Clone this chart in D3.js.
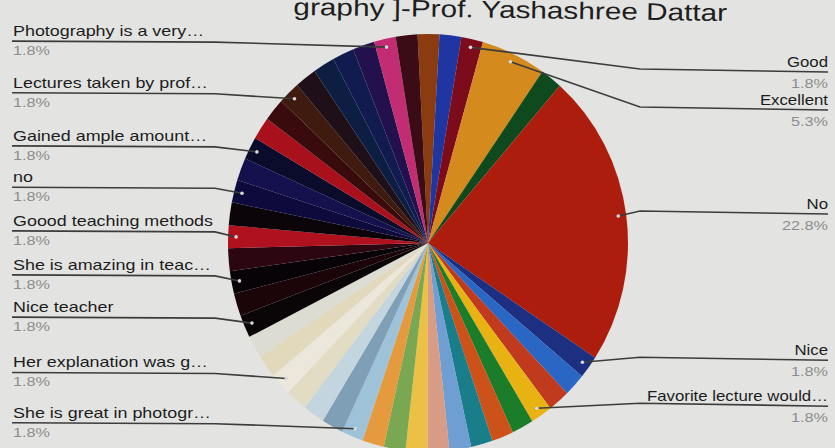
<!DOCTYPE html>
<html><head><meta charset="utf-8">
<script src="https://cdn.jsdelivr.net/npm/d3@7"></script>
<style>html,body{margin:0;padding:0;background:#e3e4e2;} svg{display:block;font-family:"Liberation Sans",Arial,sans-serif;}</style>
</head><body>
<svg id="chart" width="835" height="448"></svg>
<script>
const title = "[Photography ]-Prof. Yashashree Dattar";
// slices in clockwise order; empty name = response not labelled in the chart
const categories = [
  "", "", "Good", "Excellent", "", "No",
  "Nice", "", "", "Favorite lecture would\u2026", "", "", "", "", "",
  "", "", "", "She is great in photogr\u2026", "", "", "", "Her explanation was g\u2026", "", "",
  "Nice teacher", "", "She is amazing in teac\u2026", "", "Goood teaching methods", "", "no", "",
  "Gained ample amount\u2026", "", "", "Lectures taken by prof\u2026", "", "", "", "", "Photography is a very\u2026", ""
];
const values = [
  1, 1, 1, 3, 1, 13,
  1, 1, 1, 1, 1, 1, 1, 1, 1,
  1, 1, 1, 1, 1, 1, 1, 1, 1, 1,
  1, 1, 1, 1, 1, 1, 1, 1,
  1, 1, 1, 1, 1, 1, 1, 1, 1, 1
];
const colors = [
  "#8a3c10", "#1f36a2", "#7c0c1c", "#d58a1e", "#0e4a1e", "#ad1d0d",
  "#1c2f80", "#2a66c4", "#c03a1e", "#e8b212", "#1b7c2a", "#cd521a", "#1a7d8a", "#6e9ed2", "#d89c86",
  "#ecc044", "#7aa852", "#e69a3e", "#9ec2d8", "#7f9fb6", "#c3d6df", "#e3dcc4", "#ebe7da", "#e2d9bd", "#dcdcd2",
  "#0a0507", "#1c0509", "#070307", "#2c0711", "#b0111e", "#0b0509", "#0e0b3c", "#15114e",
  "#0b0b2c", "#a8111b", "#3a0b0c", "#3e1b0e", "#1e0f18", "#0e1d42", "#111b50", "#22114c", "#c22c72", "#3b0b16"
];

const cx = 428, cy = 243, R = 200, ky = 1.045;
const rot = -3 * Math.PI / 180;
const svg = d3.select("#chart");
const total = d3.sum(values);
const fmt = d3.format(".1%");
const color = d3.scaleOrdinal().domain(d3.range(values.length)).range(colors);

// title (the photo crops its left part)
svg.append("defs").append("clipPath").attr("id", "tclip")
  .append("rect").attr("x", 293).attr("y", -20).attr("width", 600).attr("height", 60);
svg.append("g").attr("clip-path", "url(#tclip)")
  .append("g").attr("transform", "translate(727,21) rotate(0.8) scale(1.24,1)")
  .append("text").attr("text-anchor", "end").attr("font-size", 24).attr("fill", "#1e1e1e")
  .text(title);

const pie = d3.pie().sort(null).value(d => d).startAngle(rot).endAngle(rot + 2 * Math.PI);
const arcs = pie(values);
const arc = d3.arc().innerRadius(0).outerRadius(R);

svg.append("g").attr("transform", `translate(${cx},${cy}) scale(1,${ky})`)
  .selectAll("path").data(arcs).join("path")
  .attr("d", arc).attr("fill", (d, i) => color(i));

const pts = arcs.map((d, i) => {
  const a = (d.startAngle + d.endAngle) / 2;
  return { i, a, x: cx + 0.96 * R * Math.sin(a), y: cy - 0.96 * R * ky * Math.cos(a), left: a > Math.PI };
}).filter(o => categories[o.i]);

const left = pts.filter(p => p.left).sort((a, b) => a.y - b.y);
const right = pts.filter(p => !p.left).sort((a, b) => a.y - b.y);
let prev = -1e9;
left.forEach(p => { p.ly = Math.max(p.y - 6, prev + 38, 34); prev = p.ly; });
prev = -1e9;
right.forEach(p => { p.ly = Math.max(p.y - 2, prev + 38, 72); prev = p.ly; });

const lg = svg.append("g");
left.forEach(p => {
  lg.append("polyline").attr("points", `12,${p.ly} 215,${p.ly + 1} ${p.x},${p.y}`)
    .attr("fill", "none").attr("stroke", "#3c3c3c").attr("stroke-width", 1.6);
  lg.append("circle").attr("cx", p.x).attr("cy", p.y).attr("r", 1.8).attr("fill", "#d8d8d8");
  lg.append("g").attr("transform", `translate(13,${p.ly - 5}) scale(1.28,1)`)
    .append("text").attr("font-size", 14).attr("fill", "#1c1c1c").text(categories[p.i]);
  lg.append("g").attr("transform", `translate(13,${p.ly + 14}) scale(1.3,1)`)
    .append("text").attr("font-size", 12.5).attr("fill", "#8c8c8c").text(fmt(values[p.i] / total));
});
right.forEach(p => {
  lg.append("polyline").attr("points", `${p.x},${p.y} 640,${p.ly - 3} 828,${p.ly}`)
    .attr("fill", "none").attr("stroke", "#3c3c3c").attr("stroke-width", 1.6);
  lg.append("circle").attr("cx", p.x).attr("cy", p.y).attr("r", 1.8).attr("fill", "#d8d8d8");
  lg.append("g").attr("transform", `translate(828,${p.ly - 5}) scale(1.2,1)`)
    .append("text").attr("text-anchor", "end").attr("font-size", 14).attr("fill", "#1c1c1c").text(categories[p.i]);
  lg.append("g").attr("transform", `translate(828,${p.ly + 16}) scale(1.25,1)`)
    .append("text").attr("text-anchor", "end").attr("font-size", 13).attr("fill", "#8c8c8c").text(fmt(values[p.i] / total));
});
</script>
</body></html>
